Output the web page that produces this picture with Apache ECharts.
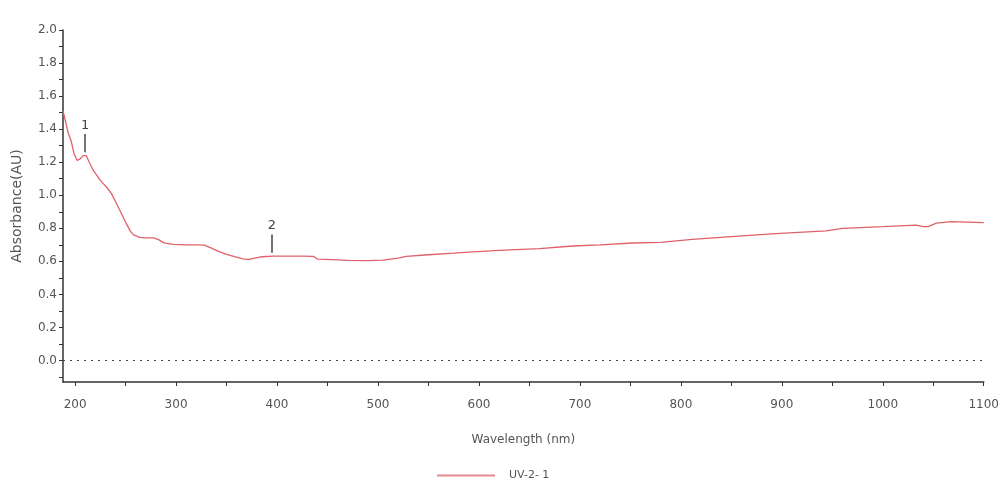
<!DOCTYPE html>
<html>
<head>
<meta charset="utf-8">
<script src="https://cdn.jsdelivr.net/npm/echarts@6/dist/echarts.min.js"></script>
<style>
  html, body { margin: 0; padding: 0; background: #fff; }
  #chart { width: 1002px; height: 490px; }
</style>
</head>
<body>
<div id="chart"></div>
<script>
// spectrum
const wavelength = [188, 190, 193, 196, 199, 202, 205, 208, 211, 214, 218, 225, 231, 236, 241, 245, 251, 255, 258, 264,
  270, 278, 283, 288, 297, 310, 320, 328, 335, 342, 350, 358, 366, 372, 378, 385, 396, 410, 425, 436,
  440, 455, 470, 490, 505, 520, 528, 550, 575, 594, 620, 660, 693, 720, 752, 780, 811, 850, 894, 944,
  960, 1000, 1033, 1040, 1045, 1053, 1068, 1100];
const absorbance = [1.51, 1.46, 1.38, 1.33, 1.25, 1.21, 1.22, 1.24, 1.24, 1.2, 1.15, 1.09, 1.05, 1.01, 0.95, 0.9, 0.825, 0.78, 0.76, 0.745,
  0.742, 0.742, 0.73, 0.712, 0.703, 0.7, 0.7, 0.698, 0.68, 0.66, 0.642, 0.628, 0.615, 0.612, 0.62, 0.628, 0.632, 0.632, 0.632, 0.63,
  0.614, 0.61, 0.606, 0.604, 0.608, 0.62, 0.63, 0.64, 0.65, 0.658, 0.667, 0.677, 0.693, 0.7, 0.711, 0.715, 0.733, 0.75, 0.768, 0.784,
  0.8, 0.81, 0.819, 0.81, 0.81, 0.831, 0.84, 0.835];

// peak picks
const peakNames = ['1', '2'];
const peakWavelength = [210, 395];
const peakAbsorbance = [1.24, 0.632];

// ticks
const xLabelValues = [200, 300, 400, 500, 600, 700, 800, 900, 1000, 1100];
const xTickValues = [200, 250, 300, 350, 400, 450, 500, 550, 600, 650, 700, 750, 800, 850, 900, 950, 1000, 1050, 1100];
const yLabelValues = [0, 0.2, 0.4, 0.6, 0.8, 1.0, 1.2, 1.4, 1.6, 1.8, 2.0];
const yTickValues = [-0.1, 0, 0.1, 0.2, 0.3, 0.4, 0.5, 0.6, 0.7, 0.8, 0.9, 1.0, 1.1, 1.2, 1.3, 1.4, 1.5, 1.6, 1.7, 1.8, 1.9, 2.0];

const seriesName = 'UV-2- 1';

const chart = echarts.init(document.getElementById('chart'));
const FONT = 'DejaVu Sans, Liberation Sans, sans-serif';
const axisFont = { fontFamily: FONT, fontSize: 12, color: '#555' };

const peakLines = peakNames.map((n, i) => ([
  { coord: [peakWavelength[i], peakAbsorbance[i] + 0.02], symbol: 'none' },
  { coord: [peakWavelength[i], peakAbsorbance[i] + 0.13], symbol: 'none', name: n }
]));

chart.setOption({
  animation: false,
  grid: { left: 63, right: 17, top: 30, bottom: 108 },
  legend: {
    left: 432, bottom: 4,
    icon: 'rect', itemWidth: 58, itemHeight: 2, itemGap: 10,
    textStyle: { fontFamily: FONT, fontSize: 11, color: '#555', padding: [0, 0, 0, 9] },
    data: [seriesName]
  },
  xAxis: {
    type: 'value', min: 188, max: 1100,
    name: 'Wavelength (nm)', nameLocation: 'middle', nameGap: 52,
    nameTextStyle: axisFont,
    axisLine: { onZero: false, lineStyle: { color: '#333', width: 1.5 } },
    axisTick: { customValues: xTickValues, length: 4, lineStyle: { color: '#333' } },
    axisLabel: Object.assign({ customValues: xLabelValues, margin: 17, formatter: v => String(v) }, axisFont),
    splitLine: { show: false }
  },
  yAxis: {
    type: 'value', min: -0.13, max: 2.0,
    name: 'Absorbance(AU)', nameLocation: 'middle', nameGap: 39, nameRotate: 90,
    nameTextStyle: Object.assign({}, axisFont, { fontSize: 14 }),
    axisLine: { show: true, onZero: false, lineStyle: { color: '#333', width: 1.5 } },
    axisTick: { show: true, customValues: yTickValues, length: 4, lineStyle: { color: '#333' } },
    axisLabel: Object.assign({
      customValues: yLabelValues, margin: 6,
      formatter: v => v.toFixed(1)
    }, axisFont),
    splitLine: { show: false }
  },
  series: [{
    name: seriesName,
    type: 'line',
    data: wavelength.map((w, i) => [w, absorbance[i]]),
    showSymbol: false, symbol: 'none',
    lineStyle: { color: '#e0606a', width: 1.3 },
    itemStyle: { color: '#e58a92' },
    markLine: {
      silent: true,
      symbol: 'none',
      animation: false,
      data: [
        [{ coord: [188, 0], symbol: 'none' }, { coord: [1100, 0], symbol: 'none' }]
      ],
      lineStyle: { color: '#444', type: [2, 5], width: 1.2 },
      label: { show: false }
    }
  }, {
    type: 'line',
    data: [],
    markLine: {
      silent: true,
      symbol: 'none',
      animation: false,
      data: peakLines,
      lineStyle: { color: '#444', type: 'solid', width: 1.5 },
      label: {
        show: true, position: 'end', formatter: p => p.name || '',
        fontFamily: FONT, fontSize: 13, color: '#444', distance: 2
      }
    }
  }]
});
</script>
</body>
</html>
